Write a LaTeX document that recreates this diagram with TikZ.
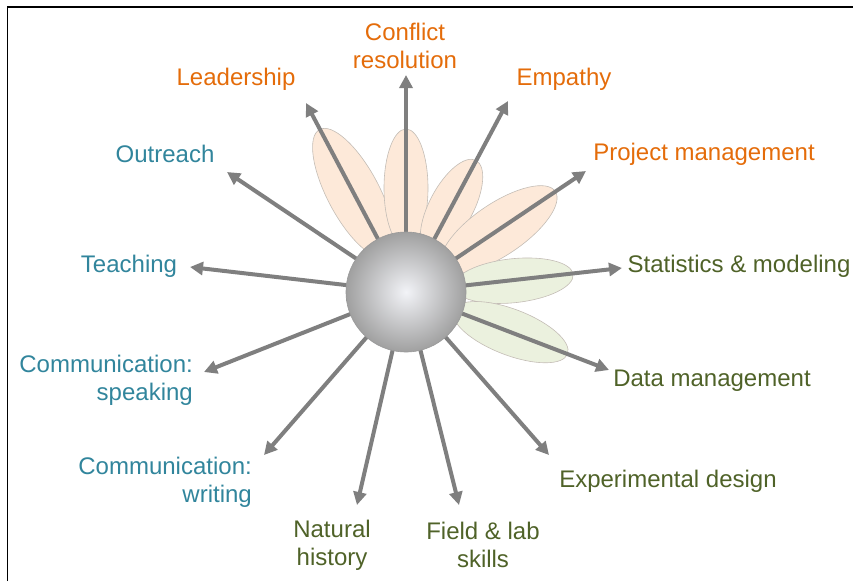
\documentclass[tikz,border=0pt]{standalone}
\usepackage{fontspec}
\setmainfont{Liberation Sans}
\usetikzlibrary{arrows.meta}
\definecolor{orangetxt}{HTML}{E46C0A}
\definecolor{tealtxt}{HTML}{31859C}
\definecolor{greentxt}{HTML}{4F6228}
\definecolor{petalor}{HTML}{FDE9D9}
\definecolor{petalgr}{HTML}{EBF1DE}
\definecolor{petaledge}{HTML}{C4BDB6}
\definecolor{arrowgray}{HTML}{7F7F7F}
\tikzset{
  lbl/.style={font=\fontsize{24}{28}\selectfont, inner sep=0pt, align=center},
  orangelbl/.style={lbl, text=orangetxt},
  teallbl/.style={lbl, text=tealtxt},
  greenlbl/.style={lbl, text=greentxt},
  ray/.style={draw=arrowgray, line width=4pt, -{Triangle[length=13pt,width=13pt]}},
  petalO/.style={fill=petalor, draw=petaledge, line width=0.6pt},
  petalG/.style={fill=petalgr, draw=petaledge, line width=0.6pt},
  frame/.style={draw=black, line width=1.6pt}
}
\newcommand{\petal}[5]{% style, angle, center distance, a, b
  \begin{scope}[shift={(406,-292)}, rotate=#2]
    \path[#1] (#3,0) ellipse [x radius=#4, y radius=#5];
  \end{scope}}
\begin{document}
\begin{tikzpicture}[x=1pt,y=1pt]
\useasboundingbox (0,0) rectangle (853,-581);
% frame (top and left edges visible)
\coordinate (fr1) at (7.5,-581);
\coordinate (fr2) at (7.5,-7);
\coordinate (fr3) at (853,-7);
\draw[frame] (fr1) -- (fr2) -- (fr3);

% petals
\petal{petalO}{118}{112}{72}{26}
\petal{petalO}{90}{104}{59}{22}
\petal{petalO}{62}{97}{52}{22}
\petal{petalO}{34}{112}{68}{26}
\petal{petalG}{6}{108}{60}{22}
\petal{petalG}{-21}{112}{61}{23}

% centre
\coordinate (c) at (406,-292);

% arrow tips
\coordinate (tConf) at (406,-75);
\coordinate (tLead) at (306,-103);
\coordinate (tEmp) at (508,-101);
\coordinate (tProj) at (586,-171);
\coordinate (tStat) at (622,-268);
\coordinate (tData) at (609,-370);
\coordinate (tExp) at (549,-455);
\coordinate (tField) at (459,-505);
\coordinate (tNat) at (357,-505);
\coordinate (tWrit) at (264,-455);
\coordinate (tSpeak) at (204,-372);
\coordinate (tTeach) at (190,-267);
\coordinate (tOut) at (227,-172);

\foreach \t in {tConf,tLead,tEmp,tProj,tStat,tData,tExp,tField,tNat,tWrit,tSpeak,tTeach,tOut}
  \draw[ray] (c) -- (\t);

% sphere
\node[circle, minimum size=120pt, inner sep=0pt, draw=gray!80, line width=0.6pt,
      inner color={rgb,255:red,242;green,243;blue,247}, outer color={rgb,255:red,160;green,160;blue,160}]
      (ball) at (c) {};

% labels
\node[orangelbl] (lConf) at (405,-46) {Conflict\\resolution};
\node[orangelbl] (lLead) at (236,-79) {Leadership};
\node[orangelbl] (lEmp) at (564,-79) {Empathy};
\node[orangelbl] (lProj) at (704,-154) {Project management};
\node[teallbl] (lOut) at (165,-154) {Outreach};
\node[teallbl] (lTeach) at (129,-266) {Teaching};
\node[greenlbl] (lStat) at (739,-266) {Statistics \& modeling};
\node[teallbl, align=right, anchor=east] (lSpeak) at (193,-380) {Communication:\\speaking};
\node[greenlbl] (lData) at (712,-381) {Data management};
\node[teallbl, align=right, anchor=east] (lWrit) at (252,-482) {Communication:\\writing};
\node[greenlbl] (lExp) at (668,-481) {Experimental design};
\node[greenlbl] (lNat) at (332,-545) {Natural\\history};
\node[greenlbl] (lField) at (483,-545) {Field \& lab\\skills};
\end{tikzpicture}
\end{document}
